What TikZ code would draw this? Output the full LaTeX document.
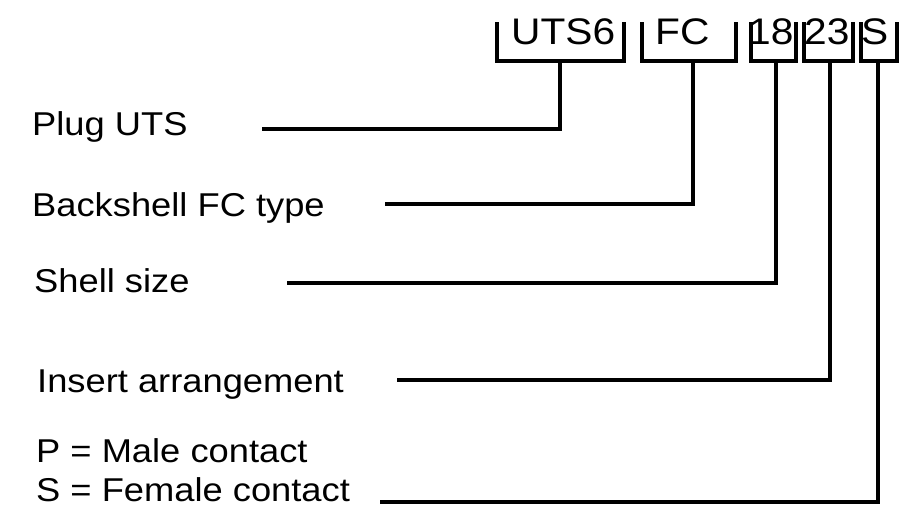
\documentclass[tikz,border=0pt]{standalone}
\usepackage{fontspec}
\setmainfont{Liberation Sans}[FakeStretch=1.1]
\begin{document}
\begin{tikzpicture}[x=1pt,y=-1pt,
  lbl/.style={anchor=base west,inner sep=0pt,font=\fontsize{33}{39}\selectfont},
  code/.style={anchor=base west,inner sep=0pt,font=\fontsize{37}{44}\selectfont},
  wire/.style={line width=3.3pt,line join=miter,line cap=butt}]
\useasboundingbox (0,0) rectangle (922,517);
% code texts
\node[code] (tuts) at (511,44) {UTS6};
\node[code] (tfc) at (655,44) {FC};
\node[code] (t18) at (748,44) {18};
\node[code] (t23) at (804,44) {23};
\node[code] (ts) at (861,44) {S};
% brackets
\draw[wire] (497,22) -- (497,61) -- (624,61) -- (624,22);
\draw[wire] (642,22) -- (642,61) -- (736,61) -- (736,22);
\draw[wire] (751,22) -- (751,61) -- (796,61) -- (796,22);
\draw[wire] (804,22) -- (804,61) -- (853,61) -- (853,22);
\draw[wire] (861,22) -- (861,61) -- (897,61) -- (897,22);
\coordinate (b1) at (560,61);
\coordinate (b2) at (693,61);
\coordinate (b3) at (776,61);
\coordinate (b4) at (830,61);
\coordinate (b5) at (878,61);
% labels
\node[lbl] (l1) at (32,135) {Plug UTS};
\node[lbl] (l2) at (32,216) {Backshell FC type};
\node[lbl] (l3) at (34,292) {Shell size};
\node[lbl] (l4) at (37,392) {Insert arrangement};
\node[lbl] (l5) at (36,462) {P = Male contact};
\node[lbl] (l6) at (36,501) {S = Female contact};
% line starts
\coordinate (s1) at (262,129);
\coordinate (s2) at (385,204);
\coordinate (s3) at (287,283);
\coordinate (s4) at (397,380);
\coordinate (s5) at (380,502);
% connectors
\draw[wire] (s1) -- (s1 -| b1) -- (b1);
\draw[wire] (s2) -- (s2 -| b2) -- (b2);
\draw[wire] (s3) -- (s3 -| b3) -- (b3);
\draw[wire] (s4) -- (s4 -| b4) -- (b4);
\draw[wire] (s5) -- (s5 -| b5) -- (b5);
\end{tikzpicture}
\end{document}
